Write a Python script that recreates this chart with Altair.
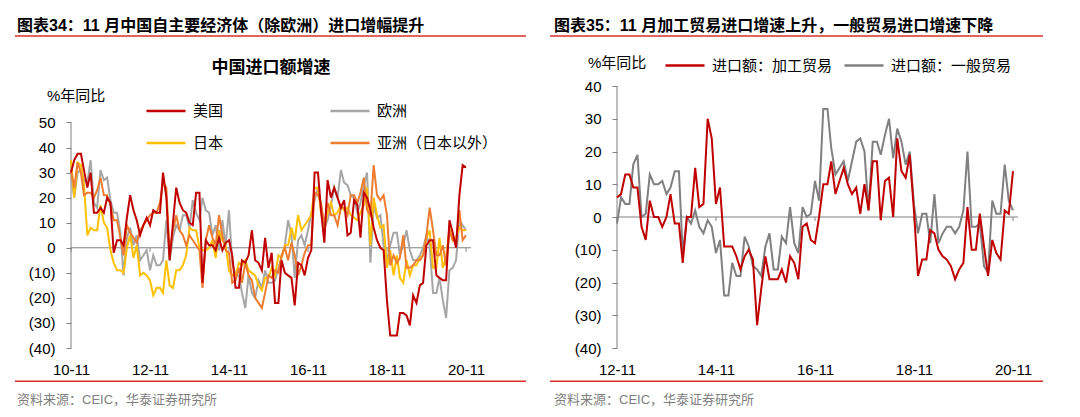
import altair as alt
import pandas as pd

# ---------------- data: left panel (monthly, 2010-11 .. 2020-11) ----------------
left_start = "2010-11-01"
us = [30, 35, 37.5, 37.5, 31, 24, 30, 14, 14, 16,
      14, 20, 18, -2, 3, 3, 1, 12, 21, 15,
      11, 5, 9, 12, 9, 15, 14, 14, 30, 20,
      -5, 10, 24, 18, 15, 14, 10, 9, 22, 22,
      -14, 3, 1, 1, -1, 4, -1, 2, 3, -3,
      -16, -16, -5, -6, -3, 7, -5, -6,
      -9, 4, -8, -2, -22, -22, -5, -10, -11, -12,
      -23, -6, -7, -11, -4, -1, 30, 30, 15, 2,
      27, 20, 24, 20, 16, 19, 5, 6, 19, 17,
      4, 22, 20, 15, 8, 3, 0, -1, -21, -35,
      -35, -35, -26, -26, -27, -31, -19, -22, -15, -14,
      1, 3, 3, -11, -12, -13, -13, 11, 6, 0,
      21, 33, 32]
europe = [29, 20, 30, 31, 27, 26, 35, 18, 16, 31,
          27, 28, 19, 14, 14, 6, -11, 4, 8, 1,
          5, -5, -3, -1, -9, -3, -7, -7, -5, 11,
          -5, 4, 9, 7, 13, 13, 8, 19, 14, 11,
          20, 15, 14, 5, 9, -1, 11, 1, 15, -6,
          -11, -11, -18, -24, -11, -18, -20, -13,
          -16, -9, -14, -14, -13, -8, -4, 1, 11, 5,
          -12, 3, 5, 1, 7, 14, 19, 24, 16, 8,
          11, 17, 24, 20, 31, 26, 25, 21, 20, 14,
          18, 25, 30, -6, 17, 12, 13, 1, -5, 1,
          6, 6, -3, 1, 7, -1, -5, -5, -3, 0,
          5, 1, -18, -18, -12, -21, -28, -9, -8, -5,
          11, 9, 7]
japan = [35, 20, 34, 33, 25, 5, 8, 7, 7, 17,
         10, 8, -1, -6, -9, -9, -10, 0, 5, -4,
         1, -11, -10, -11, -13, -19, -16, -16, -18, -5,
         -15, -16, -9, -9, -7, -3, 8, 7, 7, 0,
         -1, -1, 0, 3, -4, 7, 3, 1, -9, -11,
         -11, -6, -7, -5, -9, -10, -11, -15,
         -17, -12, -12, -8, -11, -3, -4, 1, 1, 8,
         3, 13, 7, 9, 11, 13, 24, 24, 14, 8,
         14, 18, 13, 14, 17, 15, 16, 13, 12, 11,
         14, 17, 24, 1, 20, 13, 8, 9, -8, -1,
         -11, -3, -12, -14, -5, -11, -7, -7, -4, -3,
         4, 7, -8, -8, 4, -8, -4, 8, 3, 4,
         8, 7, 7]
asia = [31, 24, 34, 30, 21, 22, 22, 20, 23, 28,
        21, 21, 17, 11, 11, 4, -3, 9, 6, 4,
        2, 7, 9, 11, 13, 14, 14, 18, 26, 24,
        -3, 7, 13, 7, 5, 1, 5, 3, 1, -1,
        -16, 3, 9, 4, 1, 13, 5, -1, -2, -14,
        -13, -8, -14, -6, -11, -13, -20, -22,
        -24, -18, -11, -12, -9, -10, -3, 0, -5, 2,
        -3, -11, -7, -2, 1, 1, 22, 21, 18, 9,
        18, 13, 13, 9, 16, 16, 13, 21, 21, 18,
        22, 28, 15, 13, 33, 21, 19, 21, 13, -7,
        -3, -6, -4, 5, -8, -8, -7, -5, -5, -3,
        5, 16, 7, -3, -3, 1, -7, 7, 3, 2,
        15, 3, 5]
left_names = ["美国", "欧洲", "日本", "亚洲（日本以外）"]
left_colors = ["#C00000", "#A6A6A6", "#FFC000", "#ED7D31"]
left_ticks = ["2010-11", "2012-11", "2014-11", "2016-11", "2018-11", "2020-11"]
left_y_ticks = [50, 40, 30, 20, 10, 0, -10, -20, -30, -40]

# ---------------- data: right panel (monthly, 2012-11 .. 2020-11) ----------------
right_start = "2012-11-01"
processing = [6, 7, 13, 13, 9, 9, -3, -7, 5, 0,
              0, -3, 0, 7, -2, -2, -14, 0, 0, 15,
              3, 4, 30, 24, 4, 9, -9, -9, -9, -12,
              -16, -12, -10, -13, -33, -22, -12, -19, -19, -19,
              -16, -20, -12, -14, -19, -3, -2, -7, -8, 0,
              10, 10, 17, 7, 11, 15, 10, 7, 9, 1,
              10, 2, 17, 17, -1, 11, 12, 0, 24, 14,
              12, 19, 2, -18, -13, -13, -4, -5, -10, -12,
              -13, -15, -19, -16, -14, 3, -10, -10, 1, -9,
              -18, -7, -11, -13, 2, 1, 14]
general = [-2, 6, 4, 4, 16, 19, 0, 1, 13, 10,
           10, 11, 7, 9, 14, 14, -11, 0, -2, 2,
           -3, -5, -1, -3, -11, -7, -24, -24, -14, -18,
           -18, -6, -9, -15, -16, -18, -9, -5, -16, -16,
           -6, -8, 3, -8, -11, 3, 0, 1, 11, 5,
           33, 33, 21, 13, 15, 17, 11, 17, 23, 24,
           20, 2, 23, 23, 19, 25, 30, 18, 27, 23,
           16, 20, 4, -5, 1, 1, -8, 7, -8, -5,
           -3, -3, -5, -3, 2, 20, -3, -3, -2, -15,
           -17, 5, 1, 1, 16, 5, 2]
right_names = ["进口额：加工贸易", "进口额：一般贸易"]
right_colors = ["#C00000", "#808080"]
right_ticks = ["2012-11", "2014-11", "2016-11", "2018-11", "2020-11"]
right_y_ticks = [40, 30, 20, 10, 0, -10, -20, -30, -40]

# ---------------- texts ----------------
left_header = "图表34：11 月中国自主要经济体（除欧洲）进口增幅提升"
left_title = "中国进口额增速"
right_header = "图表35：11 月加工贸易进口增速上升，一般贸易进口增速下降"
unit_label = "%年同比"
source_label = "资料来源：CEIC，华泰证券研究所"

CJK = "Noto Sans CJK SC"
MIX = "Liberation Sans, Noto Sans CJK SC"
NUM = "Liberation Sans"
HEAD_RED = "#D9302A"
AXIS_GRAY = "#808080"


def months(start, n):
    return pd.date_range(start, periods=n, freq="MS").strftime("%Y/%m/%d").tolist()


def dt(s):
    return alt.DateTime(year=int(s[:4]), month=int(s[5:7]), date=1)


def text_layer(text, x, y, size, color="black", bold=False, align="left", font=MIX):
    return alt.Chart(alt.Data(values=[{}])).mark_text(
        text=text, align=align, baseline="alphabetic", fontSize=size,
        fontWeight="bold" if bold else "normal", font=font, color=color
    ).encode(x=alt.value(x), y=alt.value(y))


def hline(x1, x2, y, color, width):
    return alt.Chart(alt.Data(values=[{}])).mark_rule(color=color, strokeWidth=width).encode(
        x=alt.value(x1), x2=alt.value(x2), y=alt.value(y))


def panel(df, field, names, colors, ticks, y_ticks, ydom, width, height,
          legend, texts, tick_len):
    x_axis = alt.Axis(values=[dt(t) for t in ticks], format="%y-%m",
                      domain=False, ticks=False, grid=False,
                      labelFont=NUM, labelFontSize=15, labelColor="black",
                      labelPadding=14, labelFlush=False, labelOverlap=False)
    x_scale = alt.Scale(domain=[dt(ticks[0]), dt(ticks[-1])], nice=False)
    y_axis = alt.Axis(values=y_ticks, grid=False, domain=False,
                      tickColor=AXIS_GRAY, tickSize=5, labelFont=NUM,
                      labelFontSize=15, labelColor="black", labelPadding=11,
                      labelOverlap=False, tickCount=len(y_ticks),
                      labelExpr="datum.value < 0 ? '(' + (-datum.value) + ')' : '' + datum.value")
    y_scale = alt.Scale(domain=ydom, nice=False, zero=False)

    x_enc = alt.X("date:T", title=None, scale=x_scale, axis=x_axis)
    y_enc = alt.Y("value:Q", title=None, scale=y_scale, axis=y_axis)

    def ydat(v):
        return alt.YDatum(v, type="quantitative", title=None, scale=y_scale, axis=y_axis)

    lines = alt.Chart(df).mark_line(strokeWidth=2).encode(
        x=x_enc, y=y_enc,
        color=alt.Color(f"{field}:N", scale=alt.Scale(domain=names, range=colors),
                        legend=legend),
        detail=f"{field}:N",
    )
    yaxis_line = alt.Chart(alt.Data(values=[{}])).mark_rule(color=AXIS_GRAY, strokeWidth=1).encode(
        x=alt.value(0), y=ydat(max(y_ticks)), y2=alt.Y2Datum(min(y_ticks)))
    zero = alt.Chart(alt.Data(values=[{}])).mark_rule(color=AXIS_GRAY, strokeWidth=1).encode(
        y=ydat(0), x=alt.value(0), x2=alt.value(width + 5))
    tick_df = pd.DataFrame({"date": [t.replace("-", "/") + "/01" for t in ticks]})
    zticks = alt.Chart(tick_df).mark_rule(color=AXIS_GRAY, strokeWidth=1).encode(
        x=x_enc, y=ydat(0), y2=alt.Y2Datum(-tick_len))
    layers = [yaxis_line, zero, zticks, lines] + texts
    return alt.layer(*layers).properties(width=width, height=height)


# common plot frame: both plot areas start at the same top (y = 86.5 px on the page)
H = 262

# ---- left panel ----
lw = 395
left_order = ["欧洲", "日本", "亚洲（日本以外）", "美国"]
left_series = {"美国": us, "欧洲": europe, "日本": japan, "亚洲（日本以外）": asia}
left_df = pd.concat([
    pd.DataFrame({"date": months(left_start, len(left_series[n])),
                  "value": left_series[n], "region": n}) for n in left_order
])
left_legend = alt.Legend(orient="none", legendX=74, legendY=4, title=None,
                         direction="horizontal", columns=2, columnPadding=101,
                         rowPadding=3, symbolType="stroke", symbolSize=1521,
                         symbolStrokeWidth=2.5, labelFont=CJK, labelFontSize=15,
                         labelColor="black", labelOffset=6)
left_texts = [
    text_layer(left_header, -54, -55, 16, bold=True),
    hline(-56, 455, -50, HEAD_RED, 1.5),
    text_layer(left_title, 200, -13.5, 17, bold=True, align="center", font=CJK),
    text_layer(unit_label, -24, 14.5, 15),
    hline(-56, 455, 295.2, HEAD_RED, 1.5),
    text_layer(source_label, -54, 317.5, 13, color="#7F7F7F"),
]
# the left value axis runs from (40) to 50 over the lower 225.5 px of the frame
left_top = -40 + H / ((348.5 - 123) / 90)
left = panel(left_df, "region", left_names, left_colors, left_ticks, left_y_ticks,
             [-40, left_top], lw, H, left_legend, left_texts, 1.6)

# ---- right panel ----
rw = 396
right_order = ["进口额：一般贸易", "进口额：加工贸易"]
right_series = {"进口额：加工贸易": processing, "进口额：一般贸易": general}
right_df = pd.concat([
    pd.DataFrame({"date": months(right_start, len(right_series[n])),
                  "value": right_series[n], "kind": n}) for n in right_order
])
right_legend = alt.Legend(orient="none", legendX=47, legendY=-41.5, title=None,
                          direction="horizontal", columns=2, columnPadding=6,
                          symbolType="stroke", symbolSize=1521,
                          symbolStrokeWidth=2.5, labelFont=CJK, labelFontSize=15,
                          labelColor="black", labelOffset=6)
right_texts = [
    text_layer(right_header, -63, -55, 16, bold=True),
    hline(-67, 426, -50, HEAD_RED, 1.5),
    text_layer(unit_label, -29, -18.5, 15),
    hline(-67, 426, 295.2, HEAD_RED, 1.5),
    text_layer(source_label, -63, 317.5, 13, color="#7F7F7F"),
]
right = panel(right_df, "kind", right_names, right_colors, right_ticks, right_y_ticks,
              [-40, 40], rw, H, right_legend, right_texts, 1.2)

chart = alt.hconcat(left, right, spacing=22).resolve_scale(
    color="independent").resolve_legend(color="independent").properties(
    padding={"top": 10, "left": 6, "right": 0, "bottom": 0},
    background="white",
).configure_view(stroke=None)

chart.save("out.html", embed_options={"renderer": "svg", "actions": False})
